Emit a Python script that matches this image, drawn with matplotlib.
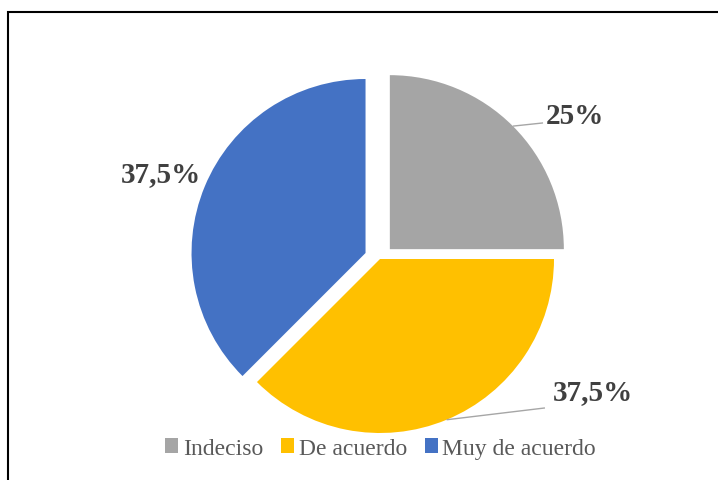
import numpy as np
import matplotlib
matplotlib.use("Agg")
import matplotlib.pyplot as plt
from matplotlib.patches import Rectangle

labels = ["Indeciso", "De acuerdo", "Muy de acuerdo"]
values = [25, 37.5, 37.5]
pct_labels = ["25%", "37,5%", "37,5%"]
colors = ["#A5A5A5", "#FFC000", "#4472C4"]
explode = [0.08, 0.0, 0.09]

plt.rcParams["font.family"] = ["Liberation Serif", "DejaVu Serif"]

W, H = 718, 481
fig = plt.figure(figsize=(W / 100, H / 100), dpi=100)
ax = fig.add_axes([0, 0, 1, 1])

# pie centre sits at pixel (380, 260), radius 174 px
cx, cy, r = 380, 260, 174

wedges, _ = ax.pie(values, colors=colors, explode=explode, startangle=90,
                   counterclock=False, radius=1.0, center=(0, 0),
                   wedgeprops=dict(linewidth=0), frame=True)
ax.set_xlim(-cx / r, (W - cx) / r)
ax.set_ylim((cy - H) / r, cy / r)
ax.set_aspect("auto")
ax.axis("off")

text_kw = dict(fontsize=21, fontweight="bold", color="#404040",
               ha="center", va="center")

# label positions (data units) and whether a leader line is drawn
label_pos = [(1.121, 0.825), (1.224, -0.759), (-1.259, 0.492)]
line_end = [(0.937, 0.782), (0.948, -0.856), None]

for w, ex, lab, pos, end in zip(wedges, explode, pct_labels, label_pos, line_end):
    ang = np.deg2rad((w.theta1 + w.theta2) / 2)
    if end is not None:
        sx = (1 + ex) * np.cos(ang)
        sy = (1 + ex) * np.sin(ang)
        ax.plot([sx, end[0]], [sy, end[1]], color="#A6A6A6", lw=1.0,
                solid_capstyle="butt")
    ax.text(pos[0], pos[1], lab, **text_kw)

fig.legend(wedges, labels, loc="center", bbox_to_anchor=(0.53, 0.066),
           ncol=3, frameon=False, fontsize=17, labelcolor="#595959",
           handlelength=0.55, handleheight=0.55, handletextpad=0.2,
           columnspacing=0.75, borderaxespad=0)

fig.patches.append(Rectangle((8 / W, -0.2), 1.2, 1.2 - 13 / H,
                             transform=fig.transFigure, fill=False,
                             edgecolor="black", linewidth=1.5))

fig.savefig("out.png", dpi=100)
